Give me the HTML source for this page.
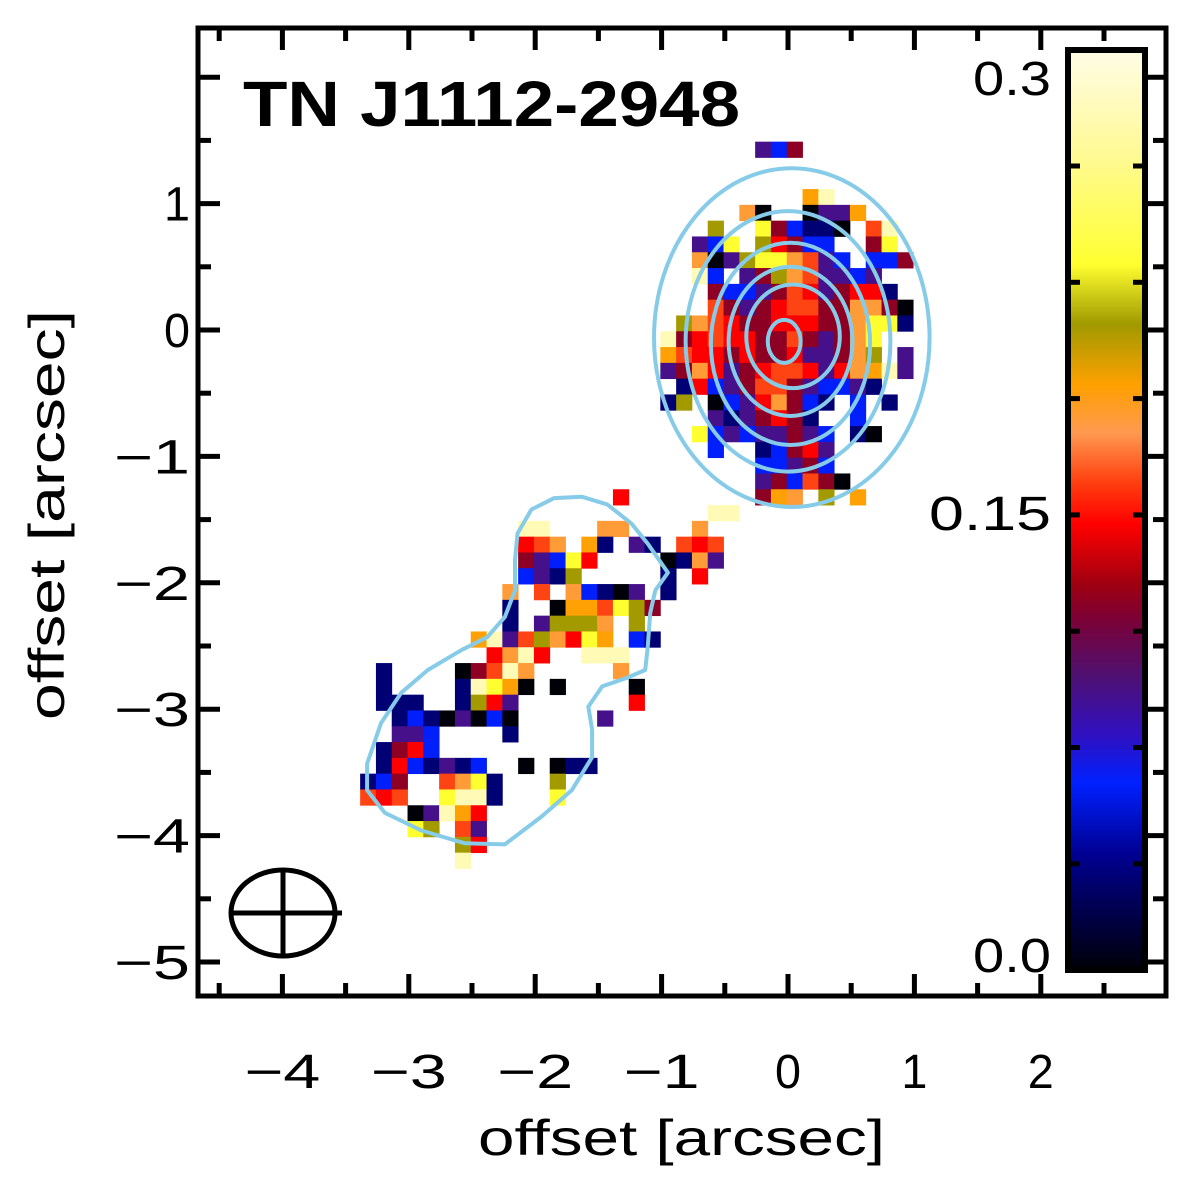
<!DOCTYPE html>
<html><head><meta charset="utf-8"><style>
html,body{margin:0;padding:0;background:#fff;}
svg{display:block;}
text{font-family:"Liberation Sans",sans-serif;}
</style></head><body>
<svg id="chart" xmlns="http://www.w3.org/2000/svg" width="1200" height="1200" viewBox="0 0 1200 1200">
<rect x="0" y="0" width="1200" height="1200" fill="#fff"/>
<g id="cells"></g>
<g id="contours"></g>
<g id="axes"></g>
<g id="cbar"></g>
<text x="243" y="126" font-size="64" font-weight="bold" textLength="497" lengthAdjust="spacingAndGlyphs">TN J1112-2948</text>
<text x="478" y="1155" font-size="50" textLength="407" lengthAdjust="spacingAndGlyphs">offset [arcsec]</text>
<text x="0" y="0" font-size="50" textLength="410" lengthAdjust="spacingAndGlyphs" transform="translate(64,720) rotate(-90)">offset [arcsec]</text>
<g fill="none" stroke="#000" stroke-width="5">
<ellipse cx="283" cy="913" rx="52" ry="43"/>
<line x1="230" y1="913" x2="342" y2="913"/>
<line x1="283" y1="868" x2="283" y2="958"/>
</g>
</svg>
<script>
// ---- data ----
const xTicks = [-4,-3,-2,-1,0,1,2];
const yTicks = [-5,-4,-3,-2,-1,0,1];
const xTickLabels = ["\u22124","\u22123","\u22122","\u22121","0","1","2"];
const yTickLabels = ["\u22125","\u22124","\u22123","\u22122","\u22121","0","1"];
const cbarLabels = ["0.3","0.15","0.0"];
const cbarLabelValues = [0.3,0.15,0.0];
const gridX0 = -3.385, gridY0 = 1.49, cellSize = 0.125;
const levelChars = ["k","n","b","p","m","r","o","a","g","l","y","w"];
const levelValues = [0.0,0.03,0.06,0.09,0.12,0.145,0.16,0.18,0.19,0.21,0.23,0.28];
const pixelRows = [
"25:pbm","","","28:gw","24:ak..kppg","22:l..ymbnnk.ow","21:pby.lrmbb..my","21:akplyyaopb.bbm",
"21:wb.pmlaoppbp","22:mbbpmorpmrrn","22:ompmroommaamk","20:laormmrrrmmayyn","19:wmrorrmmompmay",
"19:gorrmrmmrppmal.p","19:pmarpmroorpragwp","20:nrbpmoompbbpn","19:nl.kbprambn.b.n","22:pnpmrmn..b",
"21:ybpbppmpb.nk","22:b..nbmrp","25:bbpmb","25:pmbomk","16:r 25:mga.l.g","22:ww","10:ww 15:aa 21:a",
"10:roa.gn.pn.oro","10:mpbyr....knap","10:bpnl 19:n.r","9:a.o.abnkp.n","9:n..kggoylm","9:n.pllla.l",
"7:gwpolaryg.bn","8:rawr..www","1:n 6:kmowa 16:a","1:n 6:nwygk.k 17:k","1:nnn..nlrp 17:r","2:nbnkpkbk 15:p",
"2:ppb 9:n","1:nmrb","1:nrbnpnb..k.knn","0:nbm..oayn 12:l","0:oro..ywwn 12:y","3:kpwgr","3:yl.op","6:lr","6:w"
];
const contourMainCx = [0.03,0.0,0.02,0.02,0.04,-0.03];
const contourMainCy = [-0.06,-0.09,-0.11,-0.09,-0.05,-0.09];
const contourMainRx = [1.09,0.81,0.63,0.49,0.37,0.13];
const contourMainRy = [1.34,1.03,0.80,0.59,0.41,0.17];
const contourSouthX = [-1.63,-1.43,-1.24,-1.11,-0.95,-1.05,-1.09,-1.11,-1.13,-1.27,-1.47,-1.58,-1.55,-1.55,-1.71,-1.95,-2.24,-2.56,-2.90,-3.19,-3.33,-3.33,-3.22,-3.06,-2.85,-2.58,-2.38,-2.24,-2.16,-2.16,-2.14,-2.03,-1.85];
const contourSouthY = [-1.32,-1.38,-1.53,-1.69,-1.92,-2.06,-2.24,-2.51,-2.69,-2.75,-2.82,-2.98,-3.16,-3.38,-3.64,-3.85,-4.07,-4.06,-3.96,-3.82,-3.64,-3.43,-3.11,-2.87,-2.69,-2.53,-2.43,-2.27,-2.06,-1.82,-1.61,-1.42,-1.33];
const cmapFrac = [0,0.12,0.233,0.298,0.364,0.416,0.469,0.515,0.58,0.613,0.679,0.744,0.797,0.875,1];
const cmapColor = ["#fffce8","#fffa90","#ffff30","#a09a00","#ffa000","#ff9a50","#ff4010","#ff0000","#a00010","#800030","#501070","#3010c0","#0020ff","#000090","#000008"];
const cbarMax = 0.3;

// ---- scales ----
const X0=788, Y0=330, S=126.4;
const xs = v => X0 + S*v;
const ys = v => Y0 - S*v;
const NS="http://www.w3.org/2000/svg";
function mk(tag, attrs, parent){const e=document.createElementNS(NS,tag);for(const k in attrs)e.setAttribute(k,attrs[k]);parent.appendChild(e);return e;}
function hex(c){return [parseInt(c.substr(1,2),16),parseInt(c.substr(3,2),16),parseInt(c.substr(5,2),16)];}
function cmap(v){
  let f=1-Math.max(0,Math.min(cbarMax,v))/cbarMax;
  for(let i=0;i<cmapFrac.length-1;i++){
    if(f<=cmapFrac[i+1]){const t=(f-cmapFrac[i])/(cmapFrac[i+1]-cmapFrac[i]);const a=hex(cmapColor[i]),b=hex(cmapColor[i+1]);
      return "rgb("+a.map((x,j)=>Math.round(x+(b[j]-x)*t)).join(",")+")";}
  }
  return cmapColor[cmapColor.length-1];
}
function lblWidth(s){return s.length>=2 && s[0]==="\u2212" ? 76 : 26*s.length;}

// ---- pixel map ----
const cells=document.getElementById('cells');
pixelRows.forEach((row,r)=>{
  if(!row) return;
  row.split(" ").forEach(seg=>{
    const [s,chars]=seg.split(":");const c0=parseInt(s);
    for(let i=0;i<chars.length;i++){
      const li=levelChars.indexOf(chars[i]); if(li<0) continue;
      const c=c0+i;
      const x1=xs(gridX0+c*cellSize), x2=xs(gridX0+(c+1)*cellSize);
      const y1=ys(gridY0-r*cellSize), y2=ys(gridY0-(r+1)*cellSize);
      const el=mk('rect',{x:x1.toFixed(2),y:y1.toFixed(2),width:(x2-x1+0.4).toFixed(2),height:(y2-y1+0.4).toFixed(2),fill:cmap(levelValues[li])},cells);
      
      
    }
  });
});

// ---- contours ----
const cg=document.getElementById('contours');
contourMainCx.forEach((cx,i)=>{
  const el=mk('ellipse',{cx:xs(cx),cy:ys(contourMainCy[i]),rx:S*contourMainRx[i],ry:S*contourMainRy[i],fill:'none',stroke:'#86cbe8','stroke-width':4},cg);
  
  
});
{
  const pts=contourSouthX.map((x,i)=>xs(x).toFixed(1)+","+ys(contourSouthY[i]).toFixed(1)).join(" ");
  const el=mk('polygon',{points:pts,fill:'none',stroke:'#86cbe8','stroke-width':4,'stroke-linejoin':'round'},cg);
  
  
}

// ---- axes ----
const ax=document.getElementById('axes');
const L=198,R=1166,T=28,B=996;
for(let v=-4.5; v<=3; v+=0.5){
  const x=xs(v); if(x<L+2||x>R-2) continue;
  const len=Number.isInteger(v)?22:13;
  const t1=mk('line',{x1:x,y1:B,x2:x,y2:B-len,stroke:'#000','stroke-width':5},ax);
  
  
  const t2=mk('line',{x1:x,y1:T,x2:x,y2:T+len,stroke:'#000','stroke-width':5},ax);
  
  
}
for(let v=-5.5; v<=2.5; v+=0.5){
  const y=ys(v); if(y<T+2||y>B-2) continue;
  const len=Number.isInteger(v)?22:13;
  const t1=mk('line',{x1:L,y1:y,x2:L+len,y2:y,stroke:'#000','stroke-width':5},ax);
  
  
  const t2=mk('line',{x1:R,y1:y,x2:R-len,y2:y,stroke:'#000','stroke-width':5},ax);
  
  
}
const frame=mk('rect',{x:L,y:T,width:R-L,height:B-T,fill:'none',stroke:'#000','stroke-width':5},ax);


xTicks.forEach((v,i)=>{
  const w=lblWidth(xTickLabels[i]);
  const t=mk('text',{x:xs(v)-w/2,y:1088,'font-size':48,textLength:w,lengthAdjust:'spacingAndGlyphs'},ax);
  t.textContent=xTickLabels[i];
  
  
});
yTicks.forEach((v,i)=>{
  const w=lblWidth(yTickLabels[i]);
  const t=mk('text',{x:190-w,y:ys(v)+17,'font-size':48,textLength:w,lengthAdjust:'spacingAndGlyphs'},ax);
  t.textContent=yTickLabels[i];
  
  
});

// ---- colorbar ----
const cb=document.getElementById('cbar');
const CL=1068,CR=1145,CT=50,CB=970;
const defs=mk('defs',{},cb);
const grad=mk('linearGradient',{id:'cg',x1:0,y1:0,x2:0,y2:1},defs);
cmapFrac.forEach((f,i)=>{mk('stop',{offset:f,'stop-color':cmapColor[i]},grad);});
const bar=mk('rect',{x:CL,y:CT,width:CR-CL,height:CB-CT,fill:'url(#cg)',stroke:'#000','stroke-width':6},cb);


for(let k=0;k<7;k++){
  const y=166+116.3*k;
  mk('line',{x1:CL,y1:y,x2:CL+12,y2:y,stroke:'#000','stroke-width':5},cb);
  mk('line',{x1:CR,y1:y,x2:CR-12,y2:y,stroke:'#000','stroke-width':5},cb);
}
const cbScale=v=>CT+(1-v/cbarMax)*(CB-CT);
cbarLabels.forEach((s,i)=>{
  let y=cbScale(cbarLabelValues[i]);
  if(i===0) y=95; else if(i===2) y=972; else y+=20;
  const w=s.length===4?122:78;
  const t=mk('text',{x:1051-w,y:y,'font-size':48,textLength:w,lengthAdjust:'spacingAndGlyphs'},cb);
  t.textContent=s;
  
  
});
</script>
</body></html>
